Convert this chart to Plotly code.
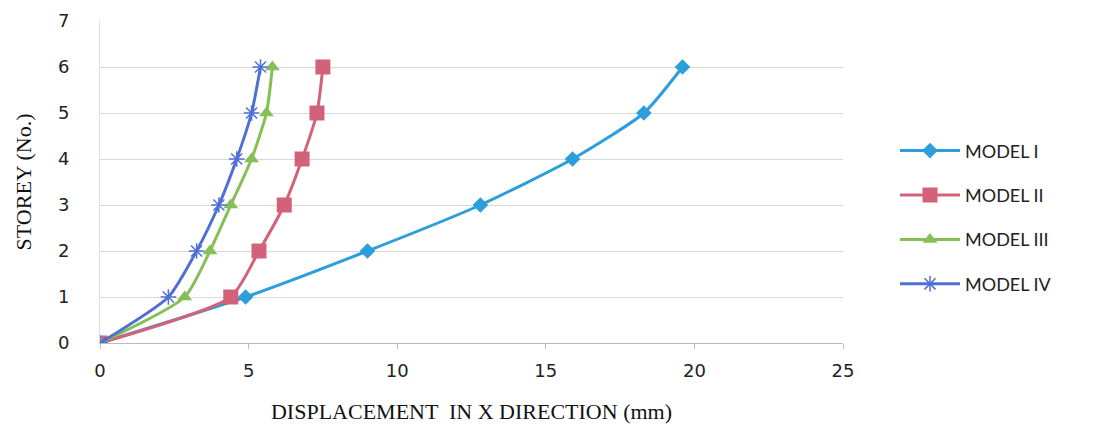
import plotly.graph_objects as go

storeys = [0, 1, 2, 3, 4, 5, 6]
model_1 = [0, 4.9, 9.0, 12.8, 15.9, 18.3, 19.6]
model_2 = [0, 4.4, 5.35, 6.2, 6.8, 7.3, 7.5]
model_3 = [0, 2.85, 3.7, 4.4, 5.1, 5.6, 5.8]
model_4 = [0, 2.3, 3.25, 4.0, 4.6, 5.1, 5.4]
names = ["MODEL I", "MODEL II", "MODEL III", "MODEL IV"]
x_ticks = [0, 5, 10, 15, 20, 25]
y_ticks = [0, 1, 2, 3, 4, 5, 6, 7]

colors = ["#2C9EDC", "#D4617A", "#85BF55", "#4F6FD6"]
symbols = ["diamond", "square", "triangle-up", "asterisk-open"]
sizes = [12, 15, 13, 13]

fig = go.Figure()
for i, (vals, name) in enumerate(zip([model_1, model_2, model_3, model_4], names)):
    fig.add_trace(go.Scatter(
        x=vals, y=storeys, name=name, mode="lines+markers",
        line=dict(color=colors[i], width=3, shape="spline", smoothing=0.6),
        marker=dict(symbol=symbols[i], size=sizes[i], color=colors[i],
                    line=dict(color=colors[i], width=1.5 if i == 3 else 0)),
        legendgroup=name,
    ))

fig.update_layout(
    width=1099, height=433,
    margin=dict(l=92, r=264, t=13, b=98),
    paper_bgcolor="white", plot_bgcolor="white",
    showlegend=True,
    legend=dict(x=1.07, y=0.39, xanchor="left", yanchor="middle",
                font=dict(family="Lato, DejaVu Sans, sans-serif", size=18, color="#222"),
                itemwidth=60, tracegroupgap=18, traceorder="grouped",
                bgcolor="rgba(0,0,0,0)"),
    xaxis=dict(range=[0, 25], tickvals=x_ticks, showgrid=False, automargin=False,
               showline=True, linecolor="#bbbbbb", linewidth=1,
               ticks="outside", tickcolor="#bbbbbb", ticklen=5,
               ticklabelstandoff=6, zeroline=False,
               tickfont=dict(family="DejaVu Sans, sans-serif", size=18, color="#222"),
               title=dict(text="DISPLACEMENT  IN X DIRECTION (mm)",
                          font=dict(family="Liberation Serif, serif", size=22, color="#111"),
                          standoff=24)),
    yaxis=dict(range=[0, 7], tickvals=y_ticks, showgrid=True, gridcolor="#d9d9d9",
               gridwidth=1, showline=True, linecolor="#dddddd", zeroline=False,
               automargin=False, ticks="", ticklabelstandoff=26,
               tickfont=dict(family="DejaVu Sans, sans-serif", size=18, color="#222"),
               title=dict(text="STOREY (No.)",
                          font=dict(family="Liberation Serif, serif", size=22, color="#111"),
                          standoff=20)),
)

fig.write_html("out.html")
